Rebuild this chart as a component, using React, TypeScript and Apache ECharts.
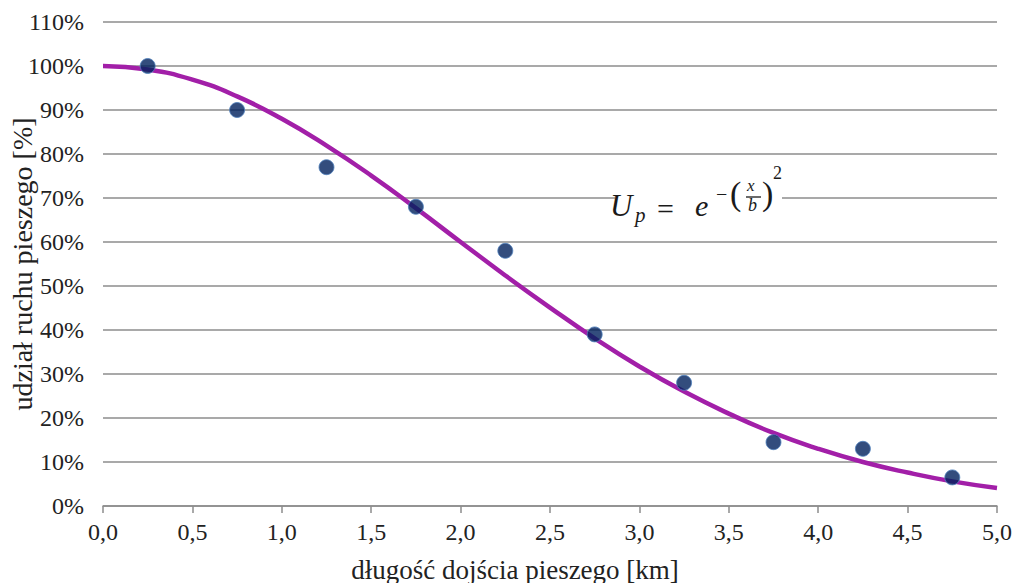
import React, { useEffect, useRef } from "react";
import * as echarts from "echarts";

// Observed share of walking trips by walking distance (bin mid-points, km)
const distances = [0.25, 0.75, 1.25, 1.75, 2.25, 2.75, 3.25, 3.75, 4.25, 4.75];
const shares = [100, 90, 77, 68, 58, 39, 28, 14.5, 13, 6.5];

// Fitted curve U_p, sampled every 0.25 km
const curveX = [0, 0.25, 0.5, 0.75, 1, 1.25, 1.5, 1.75, 2, 2.25, 2.5, 2.75, 3, 3.25, 3.5, 3.75, 4, 4.25, 4.5, 4.75, 5];
const curveY = [100, 99.2, 96.9, 93.1, 88, 81.9, 75.1, 67.7, 60, 52.4, 45.1, 38.1, 31.7, 26, 21, 16.6, 13, 10, 7.6, 5.6, 4.1];

const xTitle = "długość dojścia pieszego [km]";
const yTitle = "udział ruchu pieszego [%]";

const SERIF = "Liberation Serif";

export default function App() {
  const ref = useRef<HTMLDivElement>(null);

  useEffect(() => {
    if (!ref.current) return;
    const chart = echarts.init(ref.current, null, { renderer: "svg" });

    const mathText = (
      text: string,
      x: number,
      y: number,
      size: number,
      italic = true
    ) => ({
      type: "text",
      x,
      y,
      z: 101,
      style: {
        text,
        font: `${italic ? "italic " : ""}${size}px ${SERIF}`,
        fontFamily: SERIF,
        fontSize: size,
        fontStyle: italic ? "italic" : "normal",
        fill: "#1a1a1a",
      },
    });

    const tickRich = {
      t: { fontFamily: SERIF, fontSize: 24, color: "#222" },
    };

    chart.setOption({
      animation: false,
      backgroundColor: "#ffffff",
      textStyle: { fontFamily: SERIF, fontSize: 24 },
      grid: {
        left: 103,
        right: 22,
        top: 22,
        bottom: 77,
        containLabel: false,
        outerBoundsMode: "none",
      },
      xAxis: {
        type: "value",
        min: 0,
        max: 5,
        interval: 0.5,
        name: xTitle,
        nameLocation: "middle",
        nameGap: 50,
        nameMoveOverlap: false,
        nameTextStyle: {
          fontFamily: SERIF,
          fontSize: 27,
          color: "#222",
          padding: [0, 70, 0, 0],
        },
        axisLine: { show: true, lineStyle: { color: "#8c8c8c", width: 1.5 } },
        axisTick: { show: true, length: 7, lineStyle: { color: "#8c8c8c", width: 1.5 } },
        splitLine: { show: false },
        axisLabel: {
          fontFamily: SERIF,
          fontSize: 24,
          color: "#222",
          margin: 14,
          rich: tickRich,
          formatter: (v: number) => `{t|${v.toFixed(1).replace(".", ",")}}`,
        },
      },
      yAxis: {
        type: "value",
        min: 0,
        max: 110,
        interval: 10,
        name: yTitle,
        nameLocation: "middle",
        nameGap: 67,
        nameMoveOverlap: false,
        nameTextStyle: { fontFamily: SERIF, fontSize: 28, color: "#222" },
        axisLine: { show: false },
        axisTick: { show: false },
        splitLine: { show: true, lineStyle: { color: "#8c8c8c", width: 1.5 } },
        axisLabel: {
          fontFamily: SERIF,
          fontSize: 24,
          color: "#222",
          margin: 19,
          rich: tickRich,
          formatter: (v: number) => `{t|${v}%}`,
        },
      },
      series: [
        {
          type: "line",
          name: "U_p",
          data: curveX.map((x, i) => [x, curveY[i]]),
          smooth: true,
          showSymbol: false,
          lineStyle: { color: "#a21fa8", width: 4.5 },
          z: 2,
        },
        {
          type: "scatter",
          name: "udział",
          data: distances.map((x, i) => [x, shares[i]]),
          symbolSize: 15,
          itemStyle: {
            color: "#00205c",
            borderColor: "#4f81bd",
            borderWidth: 1,
          },
          z: 3,
        },
      ],
      graphic: [
        // left edge of the y-axis title is cut off
        {
          type: "rect",
          z: 100,
          shape: { x: 0, y: 90, width: 11, height: 360 },
          style: { fill: "#ffffff" },
        },
        // white box behind the formula
        {
          type: "rect",
          z: 100,
          shape: { x: 615, y: 162, width: 167, height: 72 },
          style: { fill: "#ffffff" },
        },
        // formula pieces, positioned by their top edges
        mathText("U", 610, 190, 31),
        mathText("p", 635, 204, 21),
        mathText("=", 657, 193, 30, false),
        mathText("e", 695, 190, 30),
        mathText("−", 716, 184, 20, false),
        mathText("(", 730, 176, 34, false),
        mathText("x", 747, 177, 17),
        {
          type: "line",
          z: 101,
          shape: { x1: 746, y1: 197, x2: 761, y2: 197 },
          style: { stroke: "#1a1a1a", lineWidth: 1.3 },
        },
        mathText("b", 748, 196, 18),
        mathText(")", 762, 176, 34, false),
        mathText("2", 773, 164, 18, false),
      ],
    });

    return () => chart.dispose();
  }, []);

  return (
    <>
      <style>{`.chart-root svg text, .chart-root svg tspan { font-family: "Liberation Serif", "Times New Roman", serif !important; }`}</style>
      <div
        ref={ref}
        className="chart-root"
        style={{ position: "fixed", left: 0, top: 0, width: 1019, height: 583 }}
      />
    </>
  );
}
